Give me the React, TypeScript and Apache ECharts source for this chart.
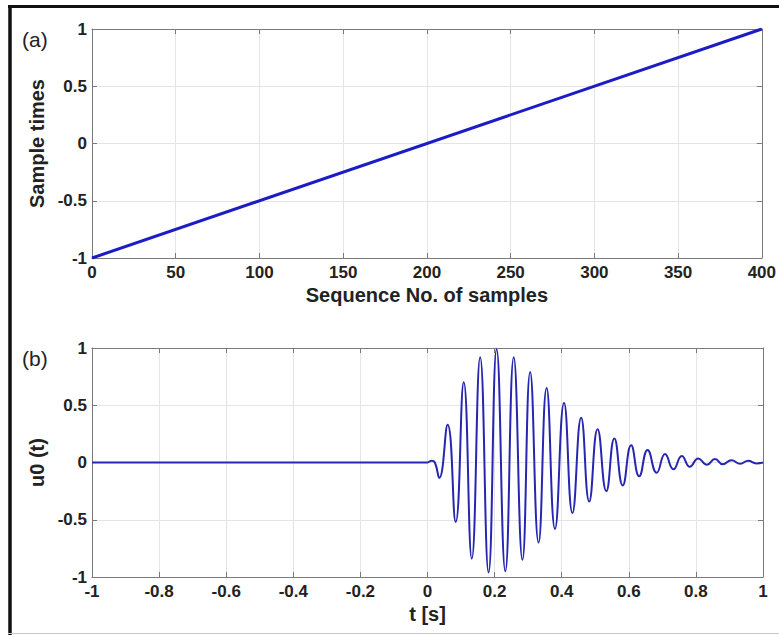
import React, { useEffect, useRef } from "react";
import * as echarts from "echarts";

// Panel (a): sample index vs sample time
const seqIndex = [0, 400];
const seqTime = [-1, 1];

// Panel (b): waveform u0(t), values read at visible extrema
const waveT = [
  -1, 0, 0.012, 0.022, 0.035, 0.06, 0.084, 0.108, 0.132, 0.157, 0.182, 0.206, 0.232,
  0.257, 0.283, 0.306, 0.331, 0.355, 0.38, 0.407, 0.432, 0.458, 0.482, 0.507, 0.533,
  0.557, 0.582, 0.607, 0.631, 0.656, 0.683, 0.708, 0.733, 0.758, 0.782, 0.807, 0.833,
  0.857, 0.88, 0.906, 0.932, 0.956, 0.98, 1,
];
const waveU = [
  0, 0, 0.015, 0, -0.135, 0.33, -0.52, 0.7, -0.84, 0.92, -0.96, 0.99, -0.95,
  0.92, -0.85, 0.79, -0.7, 0.65, -0.58, 0.52, -0.44, 0.39, -0.34, 0.29, -0.25,
  0.21, -0.2, 0.15, -0.12, 0.11, -0.09, 0.074, -0.06, 0.057, -0.037, 0.036, -0.02,
  0.03, -0.015, 0.02, -0.01, 0.015, -0.008, 0,
];

const seqTicksInterval = 50;
const timeTicksInterval = 0.2;
const yTicksInterval = 0.5;

const FONT = "Liberation Sans";
const boxColor = "#7a7a7a";
const gridColor = "#e4e4e4";

function makeAxes(gridIndex: number, xMin: number, xMax: number, xInt: number, xName: string, yName: string, xFmt?: (v: number) => string) {
  const labelStyle = { fontFamily: FONT, fontWeight: "bold" as const, fontSize: 17, color: "#222" };
  const nameStyle = { fontFamily: FONT, fontWeight: "bold" as const, fontSize: 20, color: "#222" };
  const xAxes = [
    {
      type: "value", gridIndex, min: xMin, max: xMax, interval: xInt, position: "bottom",
      name: xName, nameLocation: "middle", nameGap: 27, nameTextStyle: nameStyle,
      axisLine: { show: true, onZero: false, lineStyle: { color: boxColor, width: 1 } },
      axisTick: { show: true, inside: true, length: 5, lineStyle: { color: boxColor } },
      axisLabel: { ...labelStyle, margin: 6, formatter: xFmt },
      splitLine: { show: true, lineStyle: { color: gridColor, width: 1 } },
    },
    {
      type: "value", gridIndex, min: xMin, max: xMax, interval: xInt, position: "top",
      axisLine: { show: true, onZero: false, lineStyle: { color: boxColor, width: 1 } },
      axisTick: { show: true, inside: true, length: 5, lineStyle: { color: boxColor } },
      axisLabel: { show: false },
      splitLine: { show: false },
    },
  ];
  const yAxes = [
    {
      type: "value", gridIndex, min: -1, max: 1, interval: yTicksInterval, position: "left",
      name: yName, nameLocation: "middle", nameGap: 44, nameRotate: 90, nameTextStyle: nameStyle,
      axisLine: { show: true, onZero: false, lineStyle: { color: boxColor, width: 1 } },
      axisTick: { show: true, inside: true, length: 5, lineStyle: { color: boxColor } },
      axisLabel: { ...labelStyle, margin: 5 },
      splitLine: { show: true, lineStyle: { color: gridColor, width: 1 } },
    },
    {
      type: "value", gridIndex, min: -1, max: 1, interval: yTicksInterval, position: "right",
      axisLine: { show: true, onZero: false, lineStyle: { color: boxColor, width: 1 } },
      axisTick: { show: true, inside: true, length: 5, lineStyle: { color: boxColor } },
      axisLabel: { show: false },
      splitLine: { show: false },
    },
  ];
  return { xAxes, yAxes };
}

export default function App() {
  const ref = useRef<HTMLDivElement>(null);
  useEffect(() => {
    if (!ref.current) return;
    const chart = echarts.init(ref.current, null, { renderer: "svg" });
    const a = makeAxes(0, 0, 400, seqTicksInterval, "Sequence No. of samples", "Sample times");
    const b = makeAxes(1, -1, 1, timeTicksInterval, "t [s]", "u0 (t)", (v: number) => String(Math.round(v * 10) / 10));
    chart.setOption({
      animation: false,
      backgroundColor: "#ffffff",
      grid: [
        { left: 92, top: 29, width: 671, height: 229, containLabel: false },
        { left: 92, top: 348, width: 671, height: 229, containLabel: false },
      ],
      xAxis: [...a.xAxes, ...b.xAxes],
      yAxis: [...a.yAxes, ...b.yAxes],
      series: [
        {
          type: "line", xAxisIndex: 0, yAxisIndex: 0, showSymbol: false,
          data: seqIndex.map((x, i) => [x, seqTime[i]]),
          lineStyle: { color: "#1c1cc4", width: 3 },
        },
        {
          type: "line", xAxisIndex: 2, yAxisIndex: 2, showSymbol: false, smooth: 0.5,
          data: waveT.map((t, i) => [t, waveU[i]]),
          lineStyle: { color: "#2626b0", width: 2 },
        },
      ],
      graphic: [
        { type: "line", shape: { x1: 8, y1: 6.5, x2: 779, y2: 6.5 }, style: { stroke: "#111", lineWidth: 3 } },
        { type: "line", shape: { x1: 10, y1: 5, x2: 10, y2: 635 }, style: { stroke: "#111", lineWidth: 3.5 } },
        { type: "line", shape: { x1: 8, y1: 633.5, x2: 779, y2: 633.5 }, style: { stroke: "#c8c8c8", lineWidth: 1 } },
        { type: "text", left: 22, top: 29, style: { text: "(a)", font: `21px '${FONT}'`, fill: "#222" } },
        { type: "text", left: 22, top: 348, style: { text: "(b)", font: `21px '${FONT}'`, fill: "#222" } },
      ],
    });
    return () => chart.dispose();
  }, []);
  return (
    <div
      ref={ref}
      style={{ position: "fixed", left: 0, top: 0, width: 779, height: 635, background: "#fff" }}
    />
  );
}
